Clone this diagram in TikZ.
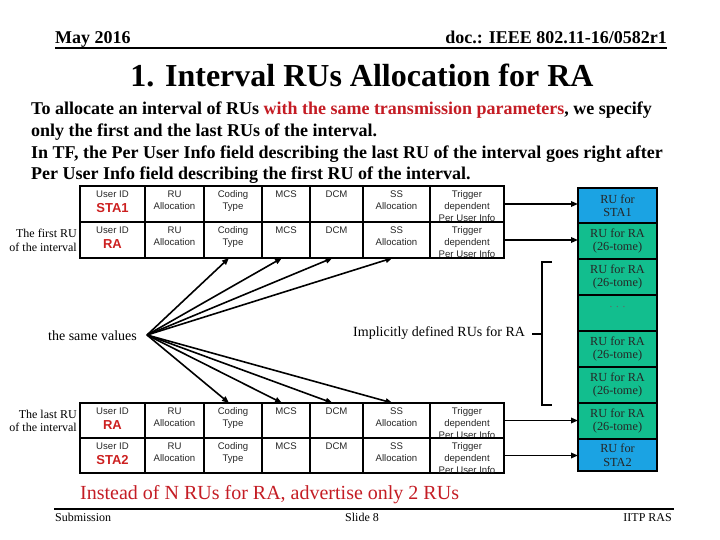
\documentclass[tikz,border=0pt]{standalone}
\usepackage{fontspec}
\setmainfont{Liberation Serif}
\newfontfamily\arialf{Liberation Sans}
\usetikzlibrary{arrows.meta,calc}
\definecolor{rublue}{RGB}{27,163,227}
\definecolor{rugreen}{RGB}{18,190,142}
\definecolor{slred}{RGB}{196,28,36}
\definecolor{idred}{RGB}{204,32,32}
\newcommand\tabrow[4]{%
  \node[cell, minimum width=65pt, minimum height=#3] (#1a) at (80,#2) {};
  \node[cell, minimum width=59pt, minimum height=#3] (#1b) at (145,#2) {};
  \node[cell, minimum width=58pt, minimum height=#3] (#1c) at (204,#2) {};
  \node[cell, minimum width=48pt, minimum height=#3] (#1d) at (262,#2) {};
  \node[cell, minimum width=53pt, minimum height=#3] (#1e) at (310,#2) {};
  \node[cell, minimum width=67pt, minimum height=#3] (#1f) at (363,#2) {};
  \node[cell, minimum width=74pt, minimum height=#3] (#1g) at (430,#2) {};
  \node[ctext] (#1at) at ([yshift=-4.5pt]#1a.north) {User ID};
  \node[idtext] (#1id) at ([yshift=-22pt]#1a.north) {#4};
  \node[ctext] (#1bt) at ([yshift=-4.5pt]#1b.north) {RU\\Allocation};
  \node[ctext] (#1ct) at ([yshift=-4.5pt]#1c.north) {Coding\\Type};
  \node[ctext] (#1dt) at ([yshift=-4.5pt]#1d.north) {MCS};
  \node[ctext] (#1et) at ([yshift=-4.5pt]#1e.north) {DCM};
  \node[ctext] (#1ft) at ([yshift=-4.5pt]#1f.north) {SS\\Allocation};
  \node[ctext] (#1gt) at ([yshift=-4.5pt]#1g.north) {Trigger\\dependent\\Per User Info};
}
\begin{document}
\begin{tikzpicture}[x=1pt,y=-1pt,
  cell/.style={draw, line width=1.5pt, anchor=north west, inner sep=0pt, outer sep=0pt},
  ctext/.style={anchor=north, inner sep=0pt, align=center, font=\arialf\fontsize{9.6}{12}\selectfont, text=black!85},
  idtext/.style={inner sep=0pt, font=\arialf\bfseries\fontsize{13}{15}\selectfont, text=idred},
  rubox/.style={draw, line width=1.5pt, anchor=north west, minimum width=79pt, inner sep=0pt, outer sep=0pt, align=center, font=\fontsize{12.3}{13.5}\selectfont, text=black!85},
  lbl/.style={inner sep=0pt, font=\fontsize{12}{13.5}\selectfont, align=right},
  conn/.style={line width=1.6pt, -{Triangle[length=7pt,width=5.5pt]}},
  rule/.style={line width=2pt},
]
\useasboundingbox (0,0) rectangle (720,540);
% header
\node[anchor=base west, inner sep=0pt, font=\bfseries\fontsize{18}{20}\selectfont] (date) at (55,44) {May 2016};
\node[anchor=base east, inner sep=0pt, font=\bfseries\fontsize{18}{20}\selectfont] (doc) at (667,44) {doc.: IEEE 802.11-16/0582r1};
\draw[rule] (55,48.5) -- (667,48.5);
% title
\node[anchor=base, inner sep=0pt, font=\bfseries\fontsize{32}{36}\selectfont] (title) at (362,87) {1. Interval RUs Allocation for RA};
% body
\node[anchor=north west, inner sep=0pt, align=left, font=\bfseries\fontsize{18}{21.7}\selectfont] (body) at (31,102) {To allocate an interval of RUs \textcolor{slred}{with the same transmission parameters}, we specify\\only the first and the last RUs of the interval.\\In TF, the Per User Info field describing the last RU of the interval goes right after\\Per User Info field describing the first RU of the interval.};
% tables
\tabrow{t1}{186}{36pt}{STA1}
\tabrow{t2}{222}{36pt}{RA}
\tabrow{t3}{403}{35pt}{RA}
\tabrow{t4}{438}{35pt}{STA2}
\node[lbl, anchor=east] (first) at (77,240.5) {The first RU\\of the interval};
\node[lbl, anchor=east] (last) at (77,421) {The last RU\\of the interval};
% RU stack
\node[rubox, fill=rublue, minimum height=35pt] (s1) at (578,188) {RU for\\STA1};
\node[rubox, fill=rugreen, minimum height=36pt] (s2) at (578,223) {RU for RA\\(26-tome)};
\node[rubox, fill=rugreen, minimum height=36pt] (s3) at (578,259) {RU for RA\\(26-tome)};
\node[rubox, fill=rugreen, minimum height=36pt] (s4) at (578,295) {};
\node[inner sep=0pt, font=\fontsize{11}{12}\selectfont, text=black!60] (dots) at ([yshift=-12pt]s4.north) {. . .};
\node[rubox, fill=rugreen, minimum height=36pt] (s5) at (578,331) {RU for RA\\(26-tome)};
\node[rubox, fill=rugreen, minimum height=36pt] (s6) at (578,367) {RU for RA\\(26-tome)};
\node[rubox, fill=rugreen, minimum height=36pt] (s7) at (578,403) {RU for RA\\(26-tome)};
\node[rubox, fill=rublue, minimum height=32pt] (s8) at (578,439) {RU for\\STA2};
% horizontal arrows
\draw[conn] (t1g.east) -- (t1g.east -| s1.west);
\draw[conn] (t2g.east) -- (t2g.east -| s2.west);
\draw[conn] (t3g.east) -- (t3g.east -| s7.west);
\draw[conn] (t4g.east) -- (t4g.east -| s8.west);
% fan
\node[inner sep=0pt, anchor=east, font=\fontsize{14}{16}\selectfont] (same) at (137,336) {the same values};
\coordinate (fan) at (147,335);
\foreach \c in {c,d,e,f} {
  \draw[conn] (fan) -- ([xshift=-4pt]t2\c.south);
  \draw[conn] (fan) -- ([xshift=-4pt]t3\c.north);
}
% bracket
\node[inner sep=0pt, anchor=west, font=\fontsize{14}{16}\selectfont] (impl) at (353,333) {Implicitly defined RUs for RA};
\coordinate (bt) at (552,262);
\coordinate (bb) at (552,405);
\coordinate (bm) at (542,334);
\draw[line width=1.5pt] (bt) -- (bt -| bm) -- (bb -| bm) -- (bb);
\draw[line width=1.5pt] (bm) -- ([xshift=7pt]impl.east |- bm);
% note
\node[anchor=base west, inner sep=0pt, text=slred, font=\fontsize{20}{24}\selectfont] (note) at (80,499) {Instead of N RUs for RA, advertise only 2 RUs};
% footer
\draw[rule] (54,508.5) -- (674,508.5);
\node[anchor=base west, inner sep=0pt, font=\fontsize{12}{14}\selectfont] (sub) at (55,521) {Submission};
\node[anchor=base, inner sep=0pt, font=\fontsize{12}{14}\selectfont] (slide) at (362,521) {Slide 8};
\node[anchor=base east, inner sep=0pt, font=\fontsize{12}{14}\selectfont] (iitp) at (672,521) {IITP RAS};
\end{tikzpicture}
\end{document}
